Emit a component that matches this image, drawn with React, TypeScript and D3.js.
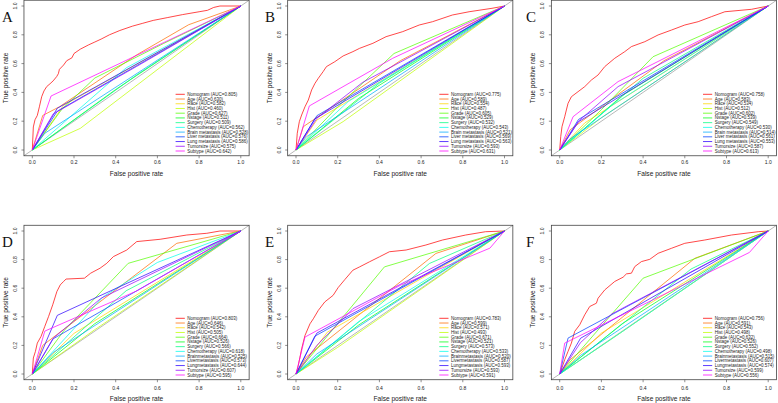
import React from "react";
import * as d3 from "d3";

// ---------- data ----------
const panelLetters = ["A", "B", "C", "D", "E", "F"];
const variablesRow1 = ["Nomogram", "Age", "Race", "Hist", "Grade", "Nstage", "Surgery", "Chemotherapy", "Brain metastasis", "Liver metastasis", "Lung metastasis", "Tumorsize", "Subtype"];
const variablesRow2 = ["Nomogram", "Age", "Race", "Hist", "Grade", "Nstage", "Surgery", "Chemotherapy", "Brainmetastasis", "Livermetastasis", "Lungmetastasis", "Tumorsize", "Subtype"];

const aucA = ["0.805", "0.630", "0.582", "0.460", "0.627", "0.511", "0.509", "0.562", "0.528", "0.576", "0.586", "0.575", "0.642"];
const aucB = ["0.775", "0.589", "0.554", "0.487", "0.605", "0.529", "0.532", "0.543", "0.521", "0.569", "0.563", "0.593", "0.631"];
const aucC = ["0.758", "0.583", "0.534", "0.512", "0.602", "0.539", "0.549", "0.530", "0.514", "0.561", "0.553", "0.587", "0.613"];
const aucD = ["0.803", "0.646", "0.542", "0.505", "0.664", "0.526", "0.566", "0.618", "0.525", "0.573", "0.644", "0.607", "0.595"];
const aucE = ["0.783", "0.599", "0.571", "0.493", "0.671", "0.521", "0.573", "0.533", "0.520", "0.587", "0.593", "0.593", "0.591"];
const aucF = ["0.756", "0.591", "0.543", "0.498", "0.632", "0.526", "0.552", "0.498", "0.515", "0.607", "0.574", "0.599", "0.556"];

const axisTicks = [0, 0.2, 0.4, 0.6, 0.8, 1.0];

// ROC points [FPR, TPR] for each variable, in legend order
const rocA = [
  [[0,0],[0.005,0.16],[0.013,0.21],[0.024,0.24],[0.034,0.30],[0.045,0.37],[0.056,0.41],[0.069,0.44],[0.085,0.46],[0.10,0.48],[0.117,0.51],[0.125,0.53],[0.13,0.56],[0.15,0.59],[0.165,0.62],[0.19,0.64],[0.2,0.67],[0.23,0.70],[0.27,0.73],[0.30,0.75],[0.33,0.77],[0.37,0.80],[0.42,0.83],[0.48,0.86],[0.53,0.88],[0.58,0.90],[0.65,0.92],[0.72,0.94],[0.8,0.96],[0.84,0.97],[0.87,0.99],[0.9,1.0],[1,1]],
  [[0,0],[0.05,0.24],[0.13,0.30],[0.5,0.66],[0.75,0.87],[1,1]],
  [[0,0],[0.15,0.31],[1,1]],
  [[0,0],[0.23,0.15],[1,1]],
  [[0,0],[0.14,0.28],[0.3,0.5],[0.63,0.74],[1,1]],
  [[0,0],[0.4,0.42],[1,1]],
  [[0,0],[0.5,0.52],[1,1]],
  [[0,0],[0.45,0.57],[1,1]],
  [[0,0],[0.06,0.116],[1,1]],
  [[0,0],[0.12,0.27],[1,1]],
  [[0,0],[0.12,0.29],[1,1]],
  [[0,0],[0.1,0.25],[0.5,0.58],[1,1]],
  [[0,0],[0.09,0.375],[1,1]],
];
const rocB = [
  [[0,0],[0.006,0.116],[0.016,0.197],[0.027,0.243],[0.043,0.30],[0.059,0.347],[0.075,0.417],[0.091,0.463],[0.107,0.498],[0.13,0.544],[0.146,0.579],[0.186,0.613],[0.226,0.653],[0.273,0.683],[0.305,0.706],[0.369,0.741],[0.432,0.787],[0.512,0.822],[0.591,0.868],[0.655,0.891],[0.75,0.9375],[0.83,0.96],[0.94,0.984],[1,1]],
  [[0,0],[0.035,0.162],[0.5,0.62],[1,1]],
  [[0,0],[0.1,0.208],[1,1]],
  [[0,0],[0.226,0.197],[1,1]],
  [[0,0],[0.2,0.3],[0.47,0.67],[1,1]],
  [[0,0],[0.3,0.358],[1,1]],
  [[0,0],[0.4,0.464],[1,1]],
  [[0,0],[0.25,0.336],[1,1]],
  [[0,0],[0.05,0.092],[1,1]],
  [[0,0],[0.1,0.238],[1,1]],
  [[0,0],[0.09,0.216],[1,1]],
  [[0,0],[0.1,0.22],[0.32,0.47],[1,1]],
  [[0,0],[0.064,0.306],[0.464,0.637],[1,1]],
];
const rocC = [
  [[0,0],[0.005,0.093],[0.011,0.162],[0.024,0.231],[0.032,0.278],[0.04,0.324],[0.056,0.37],[0.088,0.405],[0.12,0.44],[0.152,0.486],[0.184,0.521],[0.216,0.579],[0.264,0.637],[0.312,0.683],[0.344,0.718],[0.408,0.752],[0.472,0.799],[0.536,0.833],[0.6,0.868],[0.664,0.891],[0.728,0.926],[0.792,0.96],[0.92,0.977],[1,1]],
  [[0,0],[0.05,0.14],[0.5,0.62],[1,1]],
  [[0,0],[0.12,0.188],[1,1]],
  [[0,0],[0.2,0.224],[1,1]],
  [[0,0],[0.2,0.28],[0.448,0.648],[1,1]],
  [[0,0],[0.3,0.378],[1,1]],
  [[0,0],[0.4,0.498],[1,1]],
  [[0,0],[0.25,0.31],[1,1]],
  [[0,0],[0.05,0.078],[1,1]],
  [[0,0],[0.09,0.212],[1,1]],
  [[0,0],[0.09,0.196],[1,1]],
  [[0,0],[0.09,0.2],[0.28,0.44],[1,1]],
  [[0,0],[0.064,0.231],[0.28,0.475],[1,1]],
];
const rocD = [
  [[0,0],[0.005,0.112],[0.015,0.158],[0.024,0.216],[0.042,0.263],[0.06,0.333],[0.078,0.402],[0.098,0.484],[0.118,0.577],[0.134,0.623],[0.15,0.647],[0.162,0.664],[0.25,0.67],[0.28,0.705],[0.325,0.74],[0.357,0.774],[0.389,0.821],[0.421,0.844],[0.453,0.867],[0.501,0.926],[0.613,0.942],[0.741,0.972],[0.837,0.984],[0.9,1],[1,1]],
  [[0,0],[0.05,0.2],[0.693,0.914],[1,1]],
  [[0,0],[0.2,0.284],[1,1]],
  [[0,0],[0.3,0.31],[1,1]],
  [[0,0],[0.15,0.3],[0.46,0.774],[1,1]],
  [[0,0],[0.3,0.352],[1,1]],
  [[0,0],[0.45,0.582],[1,1]],
  [[0,0],[0.34,0.54],[0.6,0.78],[1,1]],
  [[0,0],[0.1,0.15],[1,1]],
  [[0,0],[0.1,0.246],[1,1]],
  [[0,0],[0.12,0.41],[1,1]],
  [[0,0],[0.1,0.25],[0.33,0.53],[1,1]],
  [[0,0],[0.06,0.3],[0.5,0.58],[1,1]],
];
const rocE = [
  [[0,0],[0.011,0.059],[0.019,0.117],[0.027,0.176],[0.043,0.269],[0.067,0.351],[0.083,0.386],[0.107,0.445],[0.138,0.504],[0.178,0.55],[0.202,0.604],[0.234,0.66],[0.273,0.726],[0.305,0.749],[0.353,0.785],[0.401,0.82],[0.448,0.855],[0.528,0.867],[0.623,0.902],[0.703,0.937],[0.814,0.972],[0.909,0.995],[1,1]],
  [[0,0],[0.05,0.12],[0.671,0.843],[1,1]],
  [[0,0],[0.15,0.292],[1,1]],
  [[0,0],[0.2,0.186],[1,1]],
  [[0,0],[0.424,0.749],[1,1]],
  [[0,0],[0.3,0.342],[1,1]],
  [[0,0],[0.64,0.773],[1,1]],
  [[0,0],[0.3,0.366],[1,1]],
  [[0,0],[0.1,0.14],[1,1]],
  [[0,0],[0.09,0.264],[1,1]],
  [[0,0],[0.1,0.286],[1,1]],
  [[0,0],[0.1,0.2],[0.273,0.457],[1,1]],
  [[0,0],[0.043,0.258],[0.5,0.62],[0.93,0.88],[1,1]],
];
const rocF = [
  [[0,0],[0.005,0.019],[0.024,0.1],[0.04,0.158],[0.056,0.216],[0.072,0.298],[0.096,0.344],[0.12,0.414],[0.144,0.472],[0.176,0.495],[0.184,0.53],[0.216,0.588],[0.264,0.647],[0.304,0.677],[0.32,0.7],[0.344,0.705],[0.36,0.751],[0.392,0.786],[0.432,0.802],[0.472,0.844],[0.536,0.879],[0.6,0.914],[0.696,0.937],[0.824,0.972],[0.952,0.995],[1,1]],
  [[0,0],[0.05,0.1],[0.648,0.809],[1,1]],
  [[0,0],[0.2,0.286],[1,1]],
  [[0,0],[0.25,0.246],[1,1]],
  [[0,0],[0.4,0.67],[1,1]],
  [[0,0],[0.3,0.352],[1,1]],
  [[0,0],[0.63,0.734],[1,1]],
  [[0,0],[0.3,0.296],[1,1]],
  [[0,0],[0.1,0.13],[1,1]],
  [[0,0],[0.04,0.251],[1,1]],
  [[0,0],[0.1,0.25],[1,1]],
  [[0,0],[0.1,0.22],[0.25,0.42],[1,1]],
  [[0,0],[0.024,0.216],[0.91,0.85],[1,1]],
];

const rocs = [rocA, rocB, rocC, rocD, rocE, rocF];
const aucs = [aucA, aucB, aucC, aucD, aucE, aucF];

// ---------- layout ----------
const W = 778, H = 403;
const colX0 = [32.3, 296, 559.7];
const unitW = 208.5;
const rowY0 = [150, 374];
const unitH = [144, 143];
const tickLabelOff = [6.3, 8.0];
const xTitleOff = [17.3, 19.2];
const letterX = [2, 265, 526];
const letterY = [22, 247];
const colors = d3.range(13).map((i) => d3.hsl(i * 25, 1, 0.5).formatHex());
const SANS = "'Liberation Sans', Arial, Helvetica, sans-serif";

function Panel({ idx }: { idx: number }) {
  const col = idx % 3, row = Math.floor(idx / 3);
  const x0 = colX0[col], y0 = rowY0[row];
  const x = d3.scaleLinear().domain([0, 1]).range([x0, x0 + unitW]);
  const y = d3.scaleLinear().domain([0, 1]).range([y0, y0 - unitH[row]]);
  const line = d3.line<number[]>().x((d) => x(d[0])).y((d) => y(d[1]));
  const bl = x(-0.04), br = x(1.04), bt = y(1.04), bb = y(-0.04);
  const names = row === 0 ? variablesRow1 : variablesRow2;
  const auc = aucs[idx];
  const curves = rocs[idx];
  const legY0 = y0 - 55.7;
  const legStep = 4.725;
  return (
    <g>
      <line x1={bl} y1={bb} x2={br} y2={bt} stroke="#9a9a9a" strokeWidth={0.7} />
      {curves.map((c, i) => (
        <path key={i} d={line(c) || ""} fill="none" stroke={colors[i]} strokeWidth={0.85} strokeOpacity={0.85} />
      ))}
      <rect x={bl} y={bt} width={br - bl} height={bb - bt} fill="none" stroke="#444" strokeWidth={0.8} />
      {axisTicks.map((t) => (
        <g key={"x" + t}>
          <line x1={x(t)} x2={x(t)} y1={bb} y2={bb + 2.5} stroke="#444" strokeWidth={0.6} />
          <text x={x(t)} y={bb + tickLabelOff[row]} fontSize={5} textAnchor="middle" dominantBaseline="central" fill="#222" fontFamily={SANS}>{t.toFixed(1)}</text>
        </g>
      ))}
      {axisTicks.map((t) => (
        <g key={"y" + t}>
          <line x1={bl - 2.5} x2={bl} y1={y(t)} y2={y(t)} stroke="#444" strokeWidth={0.6} />
          <text transform={`translate(${x0 - 17.5},${y(t)}) rotate(-90)`} fontSize={5} textAnchor="middle" dominantBaseline="central" fill="#222" fontFamily={SANS}>{t.toFixed(1)}</text>
        </g>
      ))}
      <text x={x(0.5)} y={bb + xTitleOff[row]} fontSize={6.6} textAnchor="middle" dominantBaseline="central" fill="#222" fontFamily={SANS}>False positive rate</text>
      <text transform={`translate(${x0 - 27},${y(0.5)}) rotate(-90)`} fontSize={6.6} textAnchor="middle" dominantBaseline="central" fill="#222" fontFamily={SANS}>True positive rate</text>
      {names.map((n, i) => (
        <g key={"l" + i}>
          <line x1={x0 + 143.3} x2={x0 + 152.5} y1={legY0 + i * legStep} y2={legY0 + i * legStep} stroke={colors[i]} strokeWidth={0.9} strokeOpacity={0.85} />
          <text x={x0 + 155} y={legY0 + i * legStep} fontSize={4.5} dominantBaseline="central" fill="#222" fontFamily={SANS}>{`${n} (AUC=${auc[i]})`}</text>
        </g>
      ))}
      <text x={letterX[col]} y={letterY[row]} fontSize={15} fontFamily="'Liberation Serif', 'Times New Roman', serif" fill="#111">{panelLetters[idx]}</text>
    </g>
  );
}

export default function App() {
  return (
    <svg width={W} height={H} viewBox={`0 0 ${W} ${H}`} style={{ position: "absolute", left: 0, top: 0, background: "#fff" }}>
      <rect x={0} y={0} width={W} height={H} fill="#fff" />
      {d3.range(6).map((i) => (
        <Panel key={i} idx={i} />
      ))}
    </svg>
  );
}
